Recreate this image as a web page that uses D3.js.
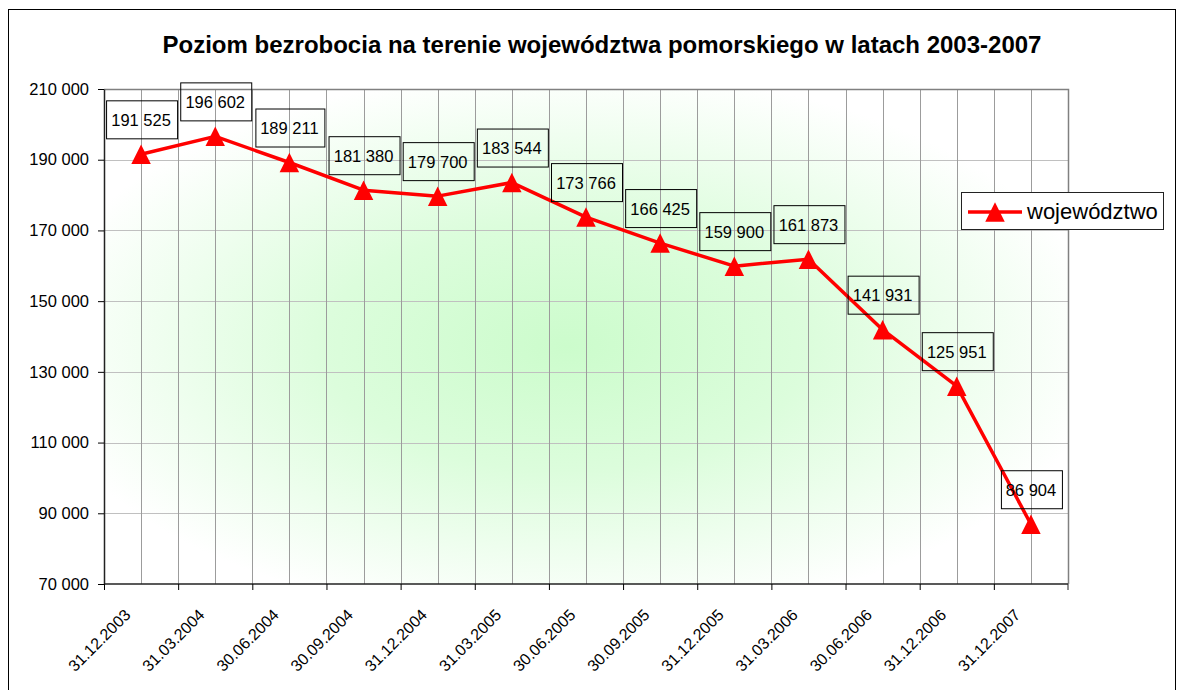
<!DOCTYPE html>
<html lang="pl">
<head>
<meta charset="UTF-8">
<title>Poziom bezrobocia</title>
<script src="https://cdn.jsdelivr.net/npm/d3@7/dist/d3.min.js"></script>
<style>
  body { margin: 0; background: #fff; }
  text { font-family: "Liberation Sans", Arial, sans-serif; }
</style>
</head>
<body>
<svg width="1184" height="690"></svg>
<script>
// dane
var categories = ["31.12.2003", "31.03.2004", "30.06.2004", "30.09.2004", "31.12.2004", "31.03.2005",
    "30.06.2005", "30.09.2005", "31.12.2005", "31.03.2006", "30.06.2006", "31.12.2006", "31.12.2007"];
var values = [191525, 196602, 189211, 181380, 179700, 183544, 173766, 166425, 159900, 161873, 141931, 125951, 86904];
var yTicks = [70000, 90000, 110000, 130000, 150000, 170000, 190000, 210000];
var seriesName = "województwo";
var title = "Poziom bezrobocia na terenie województwa pomorskiego w latach 2003-2007";

var svg = d3.select("svg");
var plot = {left: 104, right: 1068, top: 89, bottom: 584};

var fmt = d3.formatLocale({decimal: ",", thousands: " ", grouping: [3], currency: ["", ""]}).format(",");

var x = d3.scaleBand().domain(categories).range([plot.left, plot.right]);
var bw = x.bandwidth();
var xTick = d3.scalePoint().domain(categories).range([plot.left, plot.right - bw]);
var y = d3.scaleLinear().domain([70000, 210000]).range([plot.bottom, plot.top]);

// ramka wykresu
svg.append("rect")
    .attr("x", 8.5).attr("y", 9.5).attr("width", 1167).attr("height", 720)
    .attr("fill", "#fff").attr("stroke", "#000").attr("stroke-width", 1);

// tlo - gradient
var defs = svg.append("defs");
var grad = defs.append("radialGradient").attr("id", "bg")
    .attr("cx", 0.48).attr("cy", 0.52).attr("r", 0.56);
grad.append("stop").attr("offset", "0%").attr("stop-color", "#ccfccc");
grad.append("stop").attr("offset", "45%").attr("stop-color", "#dcfddc");
grad.append("stop").attr("offset", "100%").attr("stop-color", "#ffffff");

svg.append("rect")
    .attr("x", plot.left).attr("y", plot.top)
    .attr("width", plot.right - plot.left).attr("height", plot.bottom - plot.top)
    .attr("fill", "url(#bg)");

// siatka pozioma
svg.append("g").selectAll("line").data(yTicks.slice(1)).enter().append("line")
    .attr("x1", plot.left).attr("x2", plot.right)
    .attr("y1", function(d) { return Math.round(y(d)) + 0.5; })
    .attr("y2", function(d) { return Math.round(y(d)) + 0.5; })
    .attr("stroke", "#c0c0c0");

// siatka pionowa (granice i srodki kategorii)
var vx = [];
categories.forEach(function(c, i) {
    if (i > 0) vx.push(x(c));
    vx.push(x(c) + bw / 2);
});
svg.append("g").selectAll("line").data(vx).enter().append("line")
    .attr("x1", function(d) { return Math.round(d) + 0.5; })
    .attr("x2", function(d) { return Math.round(d) + 0.5; })
    .attr("y1", plot.top).attr("y2", plot.bottom)
    .attr("stroke", "#9c9c9c");

// obramowanie obszaru
svg.append("path")
    .attr("d", "M" + plot.left + "," + (plot.top + 0.5) + "H" + (plot.right + 0.5) + "V" + plot.bottom)
    .attr("fill", "none").attr("stroke", "#808080").attr("stroke-width", 1.5);

// os Y
var yAxis = svg.append("g")
    .attr("transform", "translate(" + plot.left + ",0)")
    .call(d3.axisLeft(y).tickValues(yTicks).tickFormat(fmt).tickSize(6).tickSizeOuter(0).tickPadding(9));
yAxis.select(".domain").attr("stroke", "#222").attr("stroke-width", 1.5);
yAxis.selectAll("text").attr("font-size", 16.5).attr("fill", "#000");

// os X
var xAxis = svg.append("g")
    .attr("transform", "translate(0," + plot.bottom + ")")
    .call(d3.axisBottom(xTick).tickSize(6).tickSizeOuter(0));
xAxis.select(".domain").attr("d", "M" + plot.left + ",0H" + plot.right)
    .attr("stroke", "#222").attr("stroke-width", 1.5);
xAxis.append("line").attr("x1", plot.right).attr("x2", plot.right)
    .attr("y1", 0).attr("y2", 6).attr("stroke", "#222");
xAxis.selectAll(".tick text")
    .attr("font-size", 16).attr("fill", "#000")
    .attr("text-anchor", "end")
    .attr("dy", null)
    .attr("y", null)
    .attr("transform", "translate(27,32) rotate(-45)");

// linia serii
var cx = function(i) { return x(categories[i]) + bw / 2; };
var line = d3.line()
    .x(function(d, i) { return cx(i); })
    .y(function(d) { return y(d); });
svg.append("path").datum(values)
    .attr("d", line)
    .attr("fill", "none").attr("stroke", "#ff0000").attr("stroke-width", 3.5)
    .attr("stroke-linejoin", "round");

// znacznik trojkat
var tri = {
    draw: function(ctx, size) {
        var r = Math.sqrt(size) / 2;
        ctx.moveTo(0, -r);
        ctx.lineTo(r, r);
        ctx.lineTo(-r, r);
        ctx.closePath();
    }
};
var symbol = d3.symbol().type(tri).size(380);

svg.append("g").selectAll("path").data(values).enter().append("path")
    .attr("transform", function(d, i) { return "translate(" + cx(i) + "," + y(d) + ")"; })
    .attr("d", symbol)
    .attr("fill", "#ff0000");

// etykiety danych
var labels = svg.append("g").selectAll("g").data(values).enter().append("g")
    .attr("transform", function(d, i) { return "translate(" + cx(i) + "," + y(d) + ")"; });
labels.append("text")
    .attr("x", 0).attr("y", -34).attr("dy", "0.35em")
    .attr("text-anchor", "middle").attr("font-size", 16.5).attr("fill", "#000")
    .text(function(d) { return fmt(d); });
labels.each(function() {
    var g = d3.select(this);
    var bb = g.select("text").node().getBBox();
    var w = Math.round(bb.width + 11);
    g.insert("rect", "text")
        .attr("x", Math.round(-w / 2) + 0.5).attr("y", -53.5)
        .attr("width", w).attr("height", 38)
        .attr("fill", "none").attr("stroke", "#000").attr("stroke-width", 1);
});

// legenda
var leg = svg.append("g").attr("transform", "translate(961,192)");
leg.append("rect").attr("x", 0.5).attr("y", 0.5).attr("width", 202).attr("height", 37)
    .attr("fill", "#fff").attr("stroke", "#222");
leg.append("line").attr("x1", 7).attr("x2", 61).attr("y1", 20).attr("y2", 20)
    .attr("stroke", "#ff0000").attr("stroke-width", 3.5);
leg.append("path").attr("transform", "translate(34,20)").attr("d", symbol).attr("fill", "#ff0000");
leg.append("text").attr("x", 66).attr("y", 27).attr("font-size", 22).attr("fill", "#000").text(seriesName);

// tytul
svg.append("text")
    .attr("x", 602).attr("y", 53)
    .attr("text-anchor", "middle")
    .attr("font-size", 24).attr("font-weight", "bold").attr("fill", "#000")
    .text(title);
</script>
</body>
</html>
